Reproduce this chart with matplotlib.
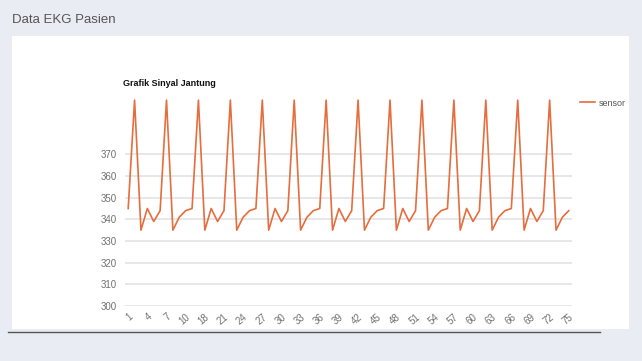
import matplotlib.pyplot as plt
from matplotlib.patches import Rectangle
from matplotlib.lines import Line2D

plt.rcParams['font.family'] = ['Liberation Sans', 'DejaVu Sans']

# category labels (ids) and sensor readings
ids = list(range(1, 11)) + list(range(16, 76))
sensor = [345, 395, 335, 345, 339, 344, 395, 335, 341, 344,
          345, 395, 335, 345, 339, 344, 395, 335, 341, 344,
          345, 395, 335, 345, 339, 344, 395, 335, 341, 344,
          345, 395, 335, 345, 339, 344, 395, 335, 341, 344,
          345, 395, 335, 345, 339, 344, 395, 335, 341, 344,
          345, 395, 335, 345, 339, 344, 395, 335, 341, 344,
          345, 395, 335, 345, 339, 344, 395, 335, 341, 344]
yticks = [300, 310, 320, 330, 340, 350, 360, 370]

W, H = 642, 361
fig = plt.figure(figsize=(W / 100, H / 100), dpi=100, facecolor='#e9ecf2')

# white card and header
fig.patches.append(Rectangle((12 / W, 1 - 329 / H), (629 - 12) / W, (329 - 36) / H,
                             transform=fig.transFigure, facecolor='white', edgecolor='none', zorder=-5))
fig.lines.append(Line2D([8 / W, 600 / W], [1 - 331.5 / H, 1 - 331.5 / H], transform=fig.transFigure,
                        color='#555555', lw=1))
fig.text(12 / W, 1 - 20 / H, 'Data EKG Pasien', fontsize=9.5, color='#555555', va='center', ha='left')

ax = fig.add_axes([125 / W, 1 - 306 / H, (572 - 125) / W, (306 - 89.3) / H])
ax.set_zorder(2)
ax.set_facecolor('none')
x = list(range(len(sensor)))
ax.plot(x, sensor, color='#e56d3e', lw=1.2, label='sensor', clip_on=False, zorder=3)
ax.set_xlim(-0.5, len(sensor) - 0.5)
ax.set_ylim(300, 400)
ax.set_yticks(yticks)
ax.set_yticklabels([str(v) for v in yticks])
ax.set_xticks(x[::3])
ax.set_xticklabels([str(v) for v in ids[::3]], rotation=40, ha='right', va='top', rotation_mode='anchor')
ax.grid(axis='y', color='#e3e3e3', lw=1.2)
ax.set_axisbelow(True)
for s in ax.spines.values():
    s.set_visible(False)
ax.tick_params(length=0, colors='#707070', labelsize=7)
ax.tick_params(axis='y', pad=6)
ax.tick_params(axis='x', pad=4)

fig.text(123 / W, 1 - 83 / H, 'Grafik Sinyal Jantung', fontsize=6.5, fontweight='bold', color='#111111',
         va='center', ha='left')
ax.legend(loc='center left', bbox_to_anchor=(580 / W, 1 - 103 / H), bbox_transform=fig.transFigure,
          frameon=False, fontsize=6.5, handlelength=1.7, handletextpad=0.4, labelcolor='#555555',
          borderpad=0, borderaxespad=0)

fig.savefig('out.png', dpi=100, facecolor=fig.get_facecolor())
